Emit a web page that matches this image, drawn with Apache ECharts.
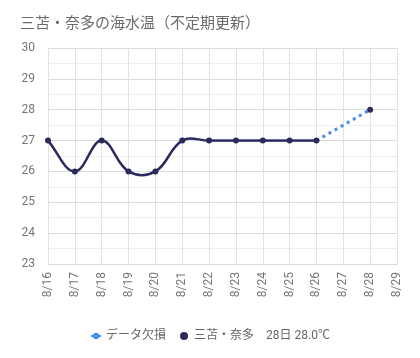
<!DOCTYPE html>
<html><head><meta charset="utf-8">
<script src="https://cdn.jsdelivr.net/npm/echarts@6/dist/echarts.min.js"></script>
<style>html,body{margin:0;padding:0;background:#fff}#c{width:420px;height:358px}</style>
</head><body><div id="c"></div>
<script>
const categories = ['8/16','8/17','8/18','8/19','8/20','8/21','8/22','8/23','8/24','8/25','8/26','8/27','8/28','8/29'];
const temps = [27,26,27,26,26,27,27,27,27,27,27,null,28,null];
const missing = [null,null,null,null,null,null,null,null,null,null,27,null,28,null];
const seriesName = '三苫・奈多';
const missingName = 'データ欠損';
const latestLabel = '28日 28.0℃';
const yTicks = {min:23, max:30, interval:1};

const FONT = 'Roboto, "Noto Sans CJK JP", sans-serif';
const NAVY = '#2b2a5e';
const TENSION = 0.4;

function dist(a,b){return Math.hypot(b[0]-a[0], b[1]-a[1]);}
function controlPoints(prev, cur, next){
  const d01 = dist(prev,cur), d12 = dist(cur,next), s = d01+d12;
  const s01 = s ? d01/s : 0, s12 = s ? d12/s : 0;
  const fa = TENSION*s01, fb = TENSION*s12;
  return {
    prev:[cur[0]-fa*(next[0]-prev[0]), cur[1]-fa*(next[1]-prev[1])],
    next:[cur[0]+fb*(next[0]-prev[0]), cur[1]+fb*(next[1]-prev[1])]
  };
}

const chart = echarts.init(document.getElementById('c'), null, {renderer:'canvas'});
chart.setOption({
  animation:false,
  textStyle:{fontFamily:FONT},
  title:{text:'三苫・奈多の海水温（不定期更新）', left:15, top:12,
    textStyle:{fontFamily:FONT, fontSize:15, fontWeight:'normal', color:'#6b6b6b'}},
  grid:{left:48, right:23, top:48, bottom:94},
  legend:{bottom:11, left:'center', itemWidth:10, itemHeight:8, itemGap:14,
    textStyle:{fontFamily:FONT, fontSize:12, color:'#666'},
    formatter:function(n){return n===seriesName ? n+'　'+latestLabel : n;},
    data:[{name:missingName}, {name:seriesName, icon:'circle'}]},
  xAxis:{type:'category', data:categories, boundaryGap:false,
    axisLine:{lineStyle:{color:'#d9d9d9'}}, axisTick:{show:false},
    axisLabel:{rotate:90, color:'#757575', fontSize:12, margin:8, interval:0},
    splitLine:{show:true, lineStyle:{color:'#e2e2e2'}}},
  yAxis:{type:'value', min:yTicks.min, max:yTicks.max, interval:yTicks.interval,
    axisLine:{show:false}, axisTick:{show:false},
    axisLabel:{color:'#757575', fontSize:12, margin:13},
    splitLine:{lineStyle:{color:'#dcdcdc'}},
    minorTick:{show:false, splitNumber:2},
    minorSplitLine:{show:true, lineStyle:{color:'#eeeeee'}}},
  series:[
    {name:missingName, type:'line', data:missing, connectNulls:true, symbol:'none',
      lineStyle:{color:'#4f8ef5', width:3, type:[3,4]}, itemStyle:{color:'#4f8ef5'}, z:1},
    {name:seriesName, type:'line', data:temps, connectNulls:false,
      symbol:'circle', symbolSize:6, showAllSymbol:true,
      lineStyle:{width:0, opacity:0}, itemStyle:{color:NAVY}, z:4},
    {name:'curve', type:'custom', coordinateSystem:'cartesian2d', z:3, silent:true,
      data:temps.map(function(v,i){return [i, v==null ? 0 : v];}),
      encode:{x:0, y:1},
      renderItem:function(params, api){
        const i = params.dataIndex;
        if (temps[i]==null || temps[i+1]==null) return null;
        const P = function(k){
          return (k<0 || k>=temps.length || temps[k]==null) ? null : api.coord([k, temps[k]]);
        };
        const p0 = P(i), p1 = P(i+1);
        const pm = P(i-1) || p0, p2 = P(i+2) || p1;
        const c0 = controlPoints(pm, p0, p1).next;
        const c1 = controlPoints(p0, p1, p2).prev;
        return {type:'bezierCurve',
          shape:{x1:p0[0], y1:p0[1], x2:p1[0], y2:p1[1], cpx1:c0[0], cpy1:c0[1], cpx2:c1[0], cpy2:c1[1]},
          style:{stroke:NAVY, lineWidth:2.5, fill:'none'}};
      }}
  ]
});
</script></body></html>
